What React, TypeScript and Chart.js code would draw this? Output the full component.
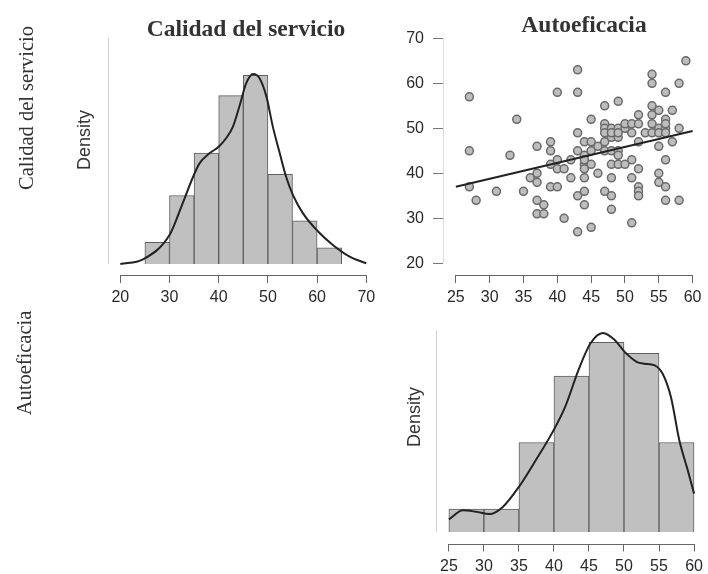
import { useEffect, useRef } from "react";
import { Chart, registerables } from "chart.js";

Chart.register(...registerables);

// ---------- Panel 1: histogram "Calidad del servicio" ----------
const hist1Edges = [25, 30, 35, 40, 45, 50, 55, 60, 65];
const hist1Density = [0.0061, 0.0194, 0.0314, 0.0477, 0.0534, 0.0254, 0.0122, 0.0046];
const kde1X = [20, 24.6, 30, 32.4, 34.8, 36.1, 38.2, 40, 41.5, 42.9, 44.2, 45.6, 47, 48.3, 49.7, 51, 52.4, 53.7, 55.1, 57.1, 60.2, 63.2, 66.6, 70];
const kde1Y = [0, 0.0013, 0.0082, 0.0162, 0.0247, 0.0285, 0.0314, 0.0332, 0.0356, 0.0389, 0.0446, 0.0512, 0.0538, 0.0526, 0.0474, 0.0389, 0.0314, 0.0247, 0.0195, 0.0144, 0.0092, 0.0054, 0.0021, 0.0002];
const ticks1X = [20, 30, 40, 50, 60, 70];

// ---------- Panel 2: scatter ----------
const scatterX = [
  27, 27, 27, 28, 31, 33, 34, 35, 36, 37, 37, 37, 37, 37, 38, 38, 39, 39, 39, 39,
  40, 40, 40, 40, 41, 41, 42, 42, 43, 43, 43, 43, 43, 43, 44, 44, 44, 44, 44, 44,
  44, 44, 45, 45, 45, 45, 45, 46, 46, 47, 47, 47, 47, 47, 47, 47, 48, 48, 48, 48,
  48, 48, 48, 48, 49, 49, 49, 49, 49, 49, 49, 50, 50, 50, 51, 51, 51, 51, 51, 52,
  52, 52, 52, 52, 52, 52, 53, 54, 54, 54, 54, 54, 54, 55, 55, 55, 55, 55, 55, 56,
  56, 56, 56, 56, 56, 56, 56, 57, 57, 58, 58, 58, 59
];
const scatterY = [
  57, 45, 37, 34, 36, 44, 52, 36, 39, 46, 40, 38, 34, 31, 33, 31, 47, 45, 37, 42,
  58, 43, 41, 37, 41, 30, 39, 43, 63, 58, 49, 45, 35, 27, 47, 44, 42, 41, 39, 36,
  33, 43, 52, 47, 45, 42, 28, 40, 46, 55, 51, 50, 47, 45, 36, 49, 50, 48, 45, 42,
  39, 35, 32, 49, 56, 50, 48, 45, 42, 44, 49, 50, 42, 51, 51, 49, 43, 39, 29, 53,
  51, 47, 41, 37, 36, 35, 49, 62, 60, 55, 53, 51, 49, 54, 50, 46, 40, 38, 49, 58,
  52, 50, 49, 43, 37, 34, 51, 54, 47, 60, 50, 34, 65
];
const fitX = [25, 60];
const fitY = [37.0, 49.4];
const ticks2X = [25, 30, 35, 40, 45, 50, 55, 60];
const ticks2Y = [20, 30, 40, 50, 60, 70];

// ---------- Panel 3: histogram "Autoeficacia" ----------
const hist2Edges = [25, 30, 35, 40, 45, 50, 55, 60];
const hist2Density = [0.006, 0.006, 0.0236, 0.0411, 0.05, 0.0471, 0.0236];
const kde2X = [25, 27, 28.9, 30.8, 32.7, 35, 37.4, 39.7, 41.6, 43.5, 45.2, 47, 48.7, 50.1, 51.8, 52.9, 54.3, 55.5, 56.7, 57.9, 59.1, 60];
const kde2Y = [0.0033, 0.0057, 0.0053, 0.0047, 0.0066, 0.0119, 0.0189, 0.026, 0.033, 0.0427, 0.0497, 0.0525, 0.0506, 0.0475, 0.0449, 0.0444, 0.044, 0.0418, 0.0356, 0.0242, 0.0163, 0.0101];
const ticks3X = [25, 30, 35, 40, 45, 50, 55, 60];

const W = 708;
const H = 574;
const tickFont = { family: "'Liberation Sans', Arial, sans-serif", size: 16 };
const tickColor = "#2a2a2a";

// draws R-style axis lines that span only the given value range
const rAxisPlugin = {
  id: "rAxis",
  afterDraw(chart: any, _args: any, opts: any) {
    const ctx = chart.ctx;
    const area = chart.chartArea;
    ctx.save();
    ctx.lineWidth = 1;
    if (opts.xLine) {
      const xs = chart.scales.x;
      const y = Math.round(area.bottom) + 0.5;
      ctx.strokeStyle = opts.xLine.color;
      ctx.beginPath();
      ctx.moveTo(xs.getPixelForValue(opts.xLine.from), y);
      ctx.lineTo(xs.getPixelForValue(opts.xLine.to), y);
      ctx.stroke();
    }
    if (opts.yLine) {
      const ys = chart.scales.y;
      const x = Math.round(area.left) + 0.5;
      ctx.strokeStyle = opts.yLine.color;
      ctx.beginPath();
      ctx.moveTo(x, ys.getPixelForValue(opts.yLine.from));
      ctx.lineTo(x, ys.getPixelForValue(opts.yLine.to));
      ctx.stroke();
    }
    ctx.restore();
  },
};

function xAxis(min: number, max: number, ticks: number[], height: number) {
  return {
    type: "linear",
    min,
    max,
    offset: false,
    afterBuildTicks: (s: any) => {
      s.ticks = ticks.map((v) => ({ value: v }));
    },
    afterFit: (s: any) => {
      s.height = height;
    },
    grid: { display: true, drawOnChartArea: false, drawTicks: true, tickLength: 8, color: "#666", offset: false },
    border: { display: false },
    ticks: { font: tickFont, color: tickColor, padding: 5, maxRotation: 0, autoSkip: false },
  };
}

function histConfig(
  edges: number[],
  dens: number[],
  kx: number[],
  ky: number[],
  ticks: number[],
  xr: [number, number],
  yr: [number, number],
  padding: any,
  axisH: number,
  yLineTop: number
) {
  const bars = dens.map((d, i) => ({ x: (edges[i] + edges[i + 1]) / 2, y: d }));
  const curve = kx.map((x, i) => ({ x, y: ky[i] }));
  return {
    type: "bar",
    data: {
      datasets: [
        {
          type: "line",
          data: curve,
          borderColor: "#222",
          borderWidth: 2,
          pointRadius: 0,
          cubicInterpolationMode: "monotone",
          fill: false,
          order: 0,
        },
        {
          type: "bar",
          data: bars,
          backgroundColor: "#c0c0c0",
          borderColor: "#5e5e5e",
          borderWidth: 1,
          barPercentage: 1,
          categoryPercentage: 1,
          order: 1,
        },
      ],
    },
    options: {
      responsive: false,
      animation: false,
      layout: { padding },
      plugins: {
        legend: { display: false },
        tooltip: { enabled: false },
        rAxis: {
          xLine: { from: ticks[0], to: ticks[ticks.length - 1], color: "#666" },
          yLine: { from: 0, to: yLineTop, color: "#cfcfcf" },
        },
      },
      scales: {
        x: xAxis(xr[0], xr[1], ticks, axisH),
        y: { type: "linear", display: false, min: yr[0], max: yr[1] },
      },
    },
    plugins: [rAxisPlugin],
  };
}

function scatterConfig() {
  const pts = scatterX.map((x, i) => ({ x, y: scatterY[i] }));
  const fit = fitX.map((x, i) => ({ x, y: fitY[i] }));
  return {
    type: "scatter",
    data: {
      datasets: [
        {
          type: "line",
          data: fit,
          borderColor: "#222",
          borderWidth: 2,
          pointRadius: 0,
          fill: false,
          order: 0,
        },
        {
          type: "scatter",
          data: pts,
          pointRadius: 4,
          backgroundColor: "#bdbdbd",
          borderColor: "#6a6a6a",
          borderWidth: 1.5,
          order: 1,
        },
      ],
    },
    options: {
      responsive: false,
      animation: false,
      layout: { padding: { left: 400, top: 33, right: 3, bottom: 574 - 275 - 40 } },
      plugins: {
        legend: { display: false },
        tooltip: { enabled: false },
        rAxis: {
          xLine: { from: ticks2X[0], to: ticks2X[ticks2X.length - 1], color: "#666" },
          yLine: { from: ticks2Y[0], to: ticks2Y[ticks2Y.length - 1], color: "#dcdcdc" },
        },
      },
      scales: {
        x: xAxis(23.1, 61.46, ticks2X, 40),
        y: {
          type: "linear",
          min: 17.4,
          max: 71.18,
          afterBuildTicks: (s: any) => {
            s.ticks = ticks2Y.map((v) => ({ value: v }));
          },
          afterFit: (s: any) => {
            s.width = 43;
          },
          grid: { display: true, drawOnChartArea: false, drawTicks: true, tickLength: 10, color: "#777" },
          border: { display: false },
          ticks: { font: tickFont, color: tickColor, padding: 9, autoSkip: false },
        },
      },
    },
    plugins: [rAxisPlugin],
  };
}

function ChartCanvas({ make }: { make: () => any }) {
  const ref = useRef<HTMLCanvasElement | null>(null);
  useEffect(() => {
    if (!ref.current) return;
    const chart = new Chart(ref.current, make());
    return () => chart.destroy();
  }, []);
  return (
    <canvas
      ref={ref}
      width={W}
      height={H}
      style={{ position: "absolute", left: 0, top: 0, width: W, height: H }}
    />
  );
}

const serif = "'Liberation Serif', 'Times New Roman', serif";
const sans = "'Liberation Sans', Arial, sans-serif";

function Label({ text, x, y, font, size, weight, rotate }: any) {
  return (
    <div
      style={{
        position: "absolute",
        left: x,
        top: y,
        transform: `translate(-50%, -50%)${rotate ? " rotate(-90deg)" : ""}`,
        fontFamily: font,
        fontSize: size,
        fontWeight: weight || "normal",
        color: "#333",
        whiteSpace: "nowrap",
        lineHeight: 1,
      }}
    >
      {text}
    </div>
  );
}

export default function App() {
  return (
    <div
      style={{
        position: "absolute",
        left: 0,
        top: 0,
        width: W,
        height: H,
        background: "#fff",
        overflow: "hidden",
      }}
    >
      <ChartCanvas
        make={() =>
          histConfig(
            hist1Edges,
            hist1Density,
            kde1X,
            kde1Y,
            ticks1X,
            [17.5, 72.5],
            [-0.00312, 0.064],
            { left: 108, top: 38, right: 329.4, bottom: 574 - 275 - 40 },
            40,
            0.064
          )
        }
      />
      <ChartCanvas make={scatterConfig} />
      <ChartCanvas
        make={() =>
          histConfig(
            hist2Edges,
            hist2Density,
            kde2X,
            kde2Y,
            ticks3X,
            [23.16, 61.3],
            [-0.00306, 0.0546],
            { left: 436, top: 325, right: 2, bottom: 0.5 },
            30,
            0.0531
          )
        }
      />
      <Label text="Calidad del servicio" x={246} y={29} font={serif} size={23.5} weight="bold" />
      <Label text="Autoeficacia" x={584} y={25} font={serif} size={23.5} weight="bold" />
      <Label text="Calidad del servicio" x={26} y={108} font={serif} size={20.5} rotate />
      <Label text="Autoeficacia" x={24} y={363} font={serif} size={20.5} rotate />
      <Label text="Density" x={84} y={140} font={sans} size={18} rotate />
      <Label text="Density" x={414} y={417} font={sans} size={18} rotate />
    </div>
  );
}
